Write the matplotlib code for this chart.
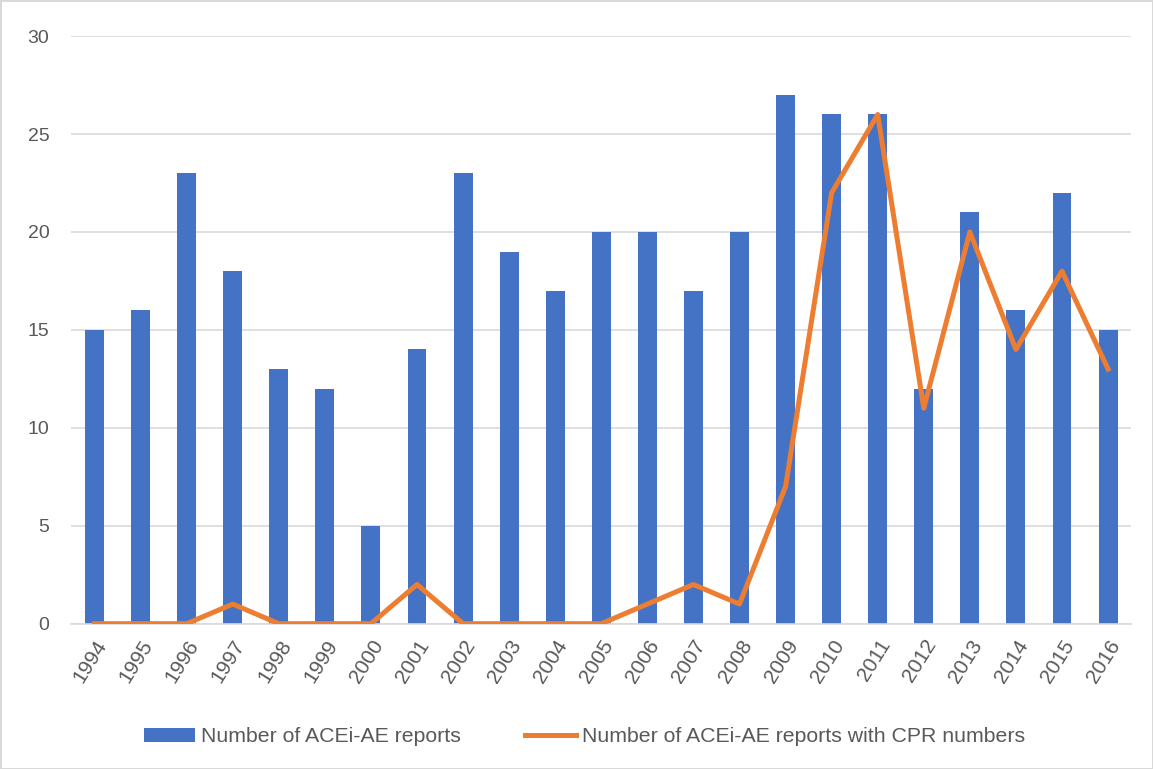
import matplotlib
matplotlib.use('Agg')
import matplotlib.pyplot as plt
import numpy as np

years = ['1994', '1995', '1996', '1997', '1998', '1999', '2000', '2001', '2002', '2003', '2004', '2005',
         '2006', '2007', '2008', '2009', '2010', '2011', '2012', '2013', '2014', '2015', '2016']
reports = [15, 16, 23, 18, 13, 12, 5, 14, 23, 19, 17, 20, 20, 17, 20, 27, 26, 26, 12, 21, 16, 22, 15]
reports_cpr = [0, 0, 0, 1, 0, 0, 0, 2, 0, 0, 0, 0, 1, 2, 1, 7, 22, 26, 11, 20, 14, 18, 13]

plt.rcParams['font.family'] = ['Liberation Sans', 'DejaVu Sans']

fig = plt.figure(figsize=(11.53, 7.69), dpi=100)
fig.patch.set_edgecolor('#d9d9d9')
fig.patch.set_linewidth(2)
ax = fig.add_axes([0.062, 0.189, 0.919, 0.764])

x = np.arange(len(years))
bars = ax.bar(x, reports, width=0.41, color='#4472C4', label='Number of ACEi-AE reports', zorder=2)
line, = ax.plot(x, reports_cpr, color='#ED7D31', linewidth=3.6,
                label='Number of ACEi-AE reports with CPR numbers', zorder=3, solid_joinstyle='round')

ax.set_xlim(-0.5, len(years) - 0.5)
ax.set_ylim(0, 30)
ax.set_yticks(range(0, 31, 5))
ax.grid(axis='y', color='#d9d9d9', linewidth=1.2, zorder=0)
ax.set_xticks(x)
ax.set_xticklabels(years, rotation=58, ha='right', rotation_mode='anchor')
ax.tick_params(axis='both', length=0, labelcolor='#595959')
ax.tick_params(axis='y', labelsize=14, pad=16)
ax.tick_params(axis='x', labelsize=15, pad=9)
for s in ['top', 'right', 'left']:
    ax.spines[s].set_visible(False)
ax.spines['bottom'].set_color('#d9d9d9')
ax.spines['bottom'].set_linewidth(1.2)

leg = fig.legend([bars, line], [bars.get_label(), line.get_label()], loc='center',
                 bbox_to_anchor=(0.507, 0.042), ncol=2, frameon=False, fontsize=15.3,
                 handlelength=2.4, handleheight=0.65, handletextpad=0.3, columnspacing=3.0)
for t in leg.get_texts():
    t.set_color('#595959')

fig.savefig('out.png', dpi=100)
